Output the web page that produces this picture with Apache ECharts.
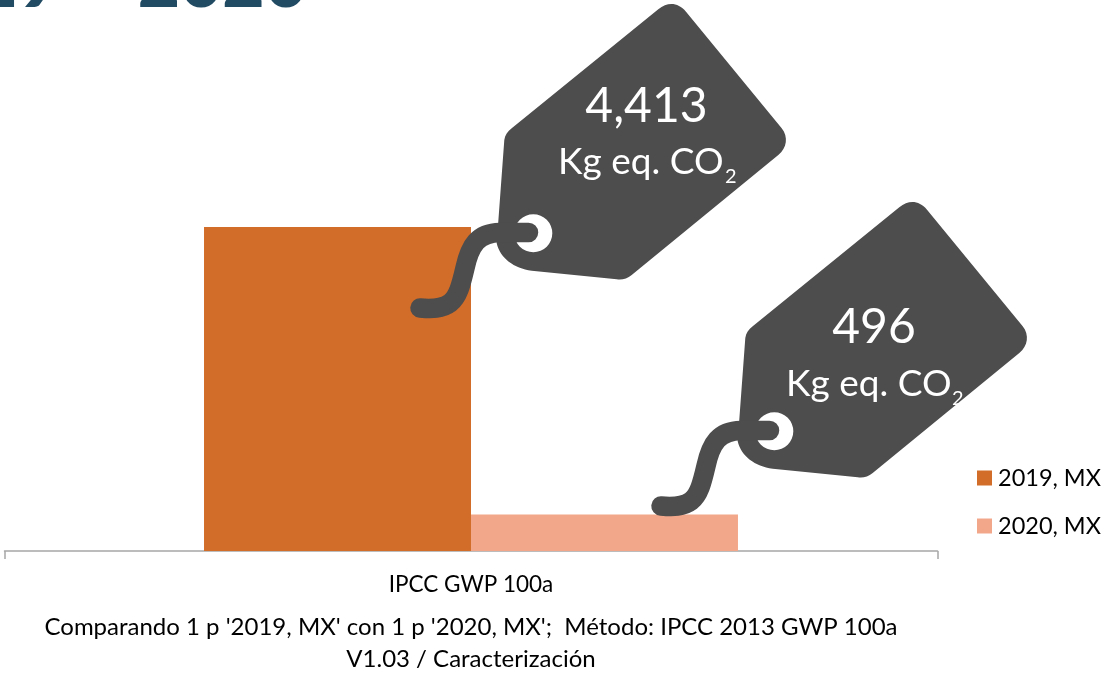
<!DOCTYPE html>
<html><head><meta charset="utf-8">
<style>html,body{margin:0;padding:0;background:#fff}#c{width:1107px;height:674px}</style>
<script src="https://cdn.jsdelivr.net/npm/echarts@6/dist/echarts.min.js"></script></head>
<body><div id="c"></div>
<script>
const categories = ['IPCC GWP 100a'];
const seriesNames = ['2019, MX', '2020, MX'];
const values2019 = [4413];
const values2020 = [496];
const tagLabels = ['4,413', '496'];
const unitText = 'Kg eq. CO';
const title = '2019 – 2020';
const noteText = "Comparando 1 p '2019, MX' con 1 p '2020, MX';  Método: IPCC 2013 GWP 100a\nV1.03 / Caracterización";
const FONT = 'Lato';
const DARK = '#4d4d4d';

const tagBodyPath = 'M511.7 128.3 L658.3 9.3 C668 1.5 678 2.5 686 11.7 L781.7 128.3 C788.5 137 787 148 778.3 155 L631.7 275 C627 279 622 280 616.7 279.3 L531.7 270.7 C514 268.5 500 258 496.7 243.3 L504.3 140 C505 135 507.5 131.5 511.7 128.3 Z M552.3 233.3 A19 19 0 1 0 514.3 233.3 A19 19 0 1 0 552.3 233.3 Z';
const tagCordPath = 'M528.5 232.5 L500 232.5 C478 233 470 245 465 268 C461 285 458 297 450 303 C442 309 432 309 420 308';
echarts.graphic.registerShape('tagBody', echarts.graphic.extendPath(tagBodyPath));
echarts.graphic.registerShape('tagCord', echarts.graphic.extendPath(tagCordPath));

function tag(dx, dy, label, labelX, labelY, unitX, unitY, subX, subY) {
  return [
    {type:'tagBody', x:dx, y:dy, z:10, style:{fill:DARK, fillRule:'evenodd'}},
    {type:'tagCord', x:dx, y:dy, z:11, style:{fill:'none', stroke:DARK, lineWidth:19.5, lineCap:'round'}},
    {type:'text', x:labelX, y:labelY, z:12, style:{text:label, fill:'#fff', font:'48px '+FONT, textAlign:'center', textVerticalAlign:'middle'}},
    {type:'text', x:unitX, y:unitY, z:12, style:{text:unitText, fill:'#fff', font:'37px '+FONT, textAlign:'left', textVerticalAlign:'middle'}},
    {type:'text', x:subX, y:subY, z:12, style:{text:'2', fill:'#fff', font:'20px '+FONT, textAlign:'left', textVerticalAlign:'middle'}}
  ];
}

const chart = echarts.init(document.getElementById('c'), null, {renderer:'canvas'});
chart.setOption({
  animation:false,
  backgroundColor:'#fff',
  grid:{left:4.5, right:169.5, top:184, bottom:123, outerBoundsMode:'none', containLabel:false},
  legend:{
    orient:'vertical', left:972, top:461, itemWidth:15, itemHeight:15, itemGap:24,
    icon:'rect',
    textStyle:{fontFamily:FONT, fontSize:23.5, color:'#000', padding:[0,0,0,1]},
    data:seriesNames
  },
  xAxis:{
    type:'category', data:categories,
    axisLine:{lineStyle:{color:'#a6a6a6', width:1.5}},
    axisTick:{show:true, length:8, lineStyle:{color:'#a6a6a6', width:1.5}},
    axisLabel:{fontFamily:FONT, fontSize:22.5, color:'#000', margin:22},
    name:noteText, nameLocation:'middle', nameGap:60,
    nameTextStyle:{fontFamily:FONT, fontSize:24, color:'#000', lineHeight:32}
  },
  yAxis:{type:'value', min:0, max:5000, show:false, splitLine:{show:false}},
  series:[
    {name:seriesNames[0], type:'bar', data:values2019, barGap:0, barCategoryGap:'42.77%', itemStyle:{color:'#d26d29'}},
    {name:seriesNames[1], type:'bar', data:values2020, itemStyle:{color:'#f2a78a'}}
  ],
  graphic:{elements:[
    {type:'text', x:307, y:-17, z:5, style:{text:title, fill:'#214a63', font:'900 73px '+FONT, textAlign:'right', textVerticalAlign:'middle'}},
    ...tag(0, 0, tagLabels[0], 646.5, 107, 558, 162, 725, 177),
    ...tag(241, 198, tagLabels[1], 874, 328, 786, 384, 952, 399)
  ]}
});
</script></body></html>
